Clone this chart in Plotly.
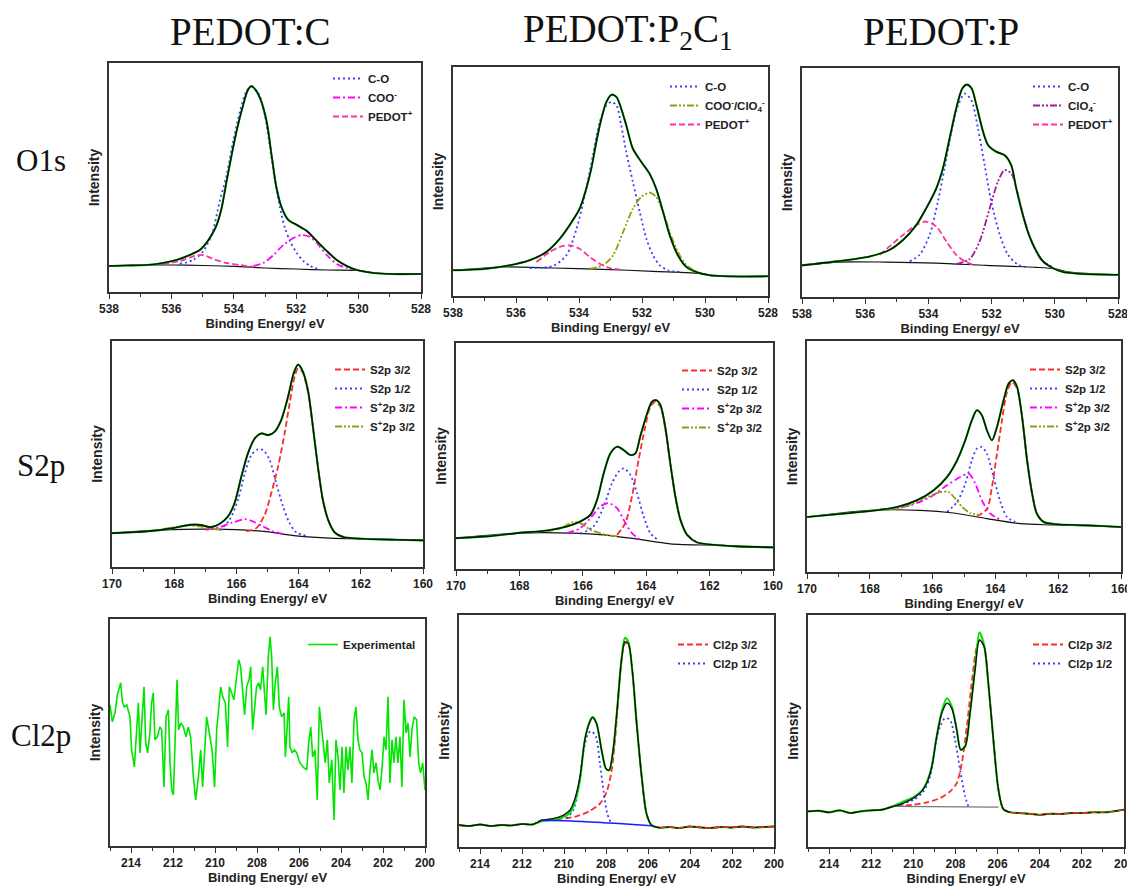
import plotly.graph_objects as go

# The page body has an 8px margin, so the figure is made 8px smaller and all
# reference-pixel positions are shifted by that offset.
REF_W, REF_H, OFF = 1135, 886, 8
W, H = REF_W - OFF, REF_H - OFF

# ---------------- DATA ----------------
# Panel 1: O1s, PEDOT:C
o1s_C_env_E = [538, 537.5, 536.8, 536.27, 535.84, 535.41, 535.09, 534.93, 534.71, 534.55, 534.39, 534.23, 534.07, 533.91, 533.7, 533.55, 533.43, 533.3, 533.16, 532.95, 532.79, 532.63, 532.46, 532.25, 531.98, 531.66, 531.34, 531.02, 530.7, 530.38, 530.06, 529.52, 529, 528]
o1s_C_env_I = [26, 26.5, 27, 29, 32, 37, 42, 47, 57, 67, 84, 111, 137, 161, 187, 202, 206, 202, 194, 171, 137, 104, 84, 72, 67, 61, 51, 41, 32, 26, 22, 19, 18, 18]
o1s_C_base_E = [538, 537, 536, 535, 534, 533, 532, 531, 530, 529.5, 528]
o1s_C_base_I = [25.7, 27, 27, 26.5, 25.7, 24, 23, 22, 21.5, 19, 18.3]
o1s_C_CO_E = [535.73, 535.3, 534.98, 534.71, 534.45, 534.23, 534.02, 533.8, 533.59, 533.43, 533.21, 533.0, 532.84, 532.68, 532.52, 532.36, 532.2, 531.98, 531.77, 531.55, 531.23]
o1s_C_CO_I = [28, 32, 41, 57, 91, 117, 151, 181, 201, 205, 199, 176, 144, 111, 84, 64, 51, 39, 31, 26, 22]
o1s_C_COO_E = [533.37, 533.05, 532.73, 532.41, 532.09, 531.82, 531.55, 531.34, 531.02, 530.7, 530.38, 530.06]
o1s_C_COO_I = [26, 29, 37, 47, 54, 57, 55, 49, 37, 28, 24, 22]
o1s_C_PED_E = [536.27, 535.73, 535.25, 534.98, 534.66, 534.23, 533.8, 533.37]
o1s_C_PED_I = [28, 31, 36, 37, 33, 29, 27, 25]

# Panel 2: O1s, PEDOT:P2C1
o1s_PC_env_E = [538, 536.94, 536.2, 535.57, 535.04, 534.61, 534.3, 533.98, 533.77, 533.61, 533.45, 533.29, 533.13, 532.97, 532.81, 532.66, 532.5, 532.29, 532.02, 531.76, 531.55, 531.33, 531.12, 530.86, 530.59, 530.28, 529.85, 529.32, 528]
o1s_PC_env_I = [25.7, 27.3, 30.7, 35.7, 44, 57.3, 70.7, 87.3, 107.3, 127.3, 154, 177.3, 194, 201.3, 199, 187.3, 170.7, 147.3, 134, 122.3, 107.3, 84, 60.7, 40.7, 29, 24, 20.7, 19.7, 19.7]
o1s_PC_base_E = [538, 536.41, 534.83, 533.24, 531.65, 530.06, 529.75, 528]
o1s_PC_base_I = [25.7, 29, 28, 26.7, 24.7, 22.3, 20, 19.7]
o1s_PC_CO_E = [535.57, 534.83, 534.4, 534.08, 533.77, 533.56, 533.34, 533.13, 532.97, 532.81, 532.66, 532.5, 532.29, 532.07, 531.86, 531.65, 531.44, 531.17, 530.8]
o1s_PC_CO_I = [28, 30, 40.7, 67, 107, 140.7, 174, 190.7, 194, 190.7, 170.7, 144, 114, 84, 57.3, 40.7, 30.7, 25.7, 24]
o1s_PC_COO_E = [533.66, 533.24, 532.92, 532.6, 532.29, 532.02, 531.76, 531.55, 531.33, 531.12, 530.86, 530.59, 530.28]
o1s_PC_COO_I = [27.3, 30.7, 40.7, 64, 87.3, 99, 103.3, 99, 84, 64, 44, 30.7, 24.7]
o1s_PC_PED_E = [535.35, 534.93, 534.61, 534.3, 533.98, 533.66, 533.34, 533.03, 532.71]
o1s_PC_PED_I = [34, 44, 49, 50.7, 47.3, 39, 32.3, 28, 26.7]

# Panel 3: O1s, PEDOT:P
o1s_P_env_E = [538, 536.91, 535.86, 535.23, 534.8, 534.38, 534.07, 533.75, 533.54, 533.33, 533.12, 532.93, 532.78, 532.63, 532.48, 532.27, 532.11, 531.85, 531.59, 531.38, 531.22, 531.01, 530.8, 530.58, 530.37, 530.06, 529.74, 529.21, 528]
o1s_P_env_I = [31.7, 35.7, 40.7, 47.3, 57.3, 72.3, 89, 109, 129, 159, 189, 209, 213, 209, 192.3, 165.7, 152.3, 145.7, 142.3, 132.3, 109, 82.3, 60.7, 45.7, 35.7, 29, 25, 23.3, 22.3]
o1s_P_base_E = [538, 536.91, 535.33, 533.75, 532.17, 530.58, 530.0, 529.53, 528]
o1s_P_base_I = [31.7, 35, 35, 34, 31.7, 29.7, 28.3, 25, 22.3]
o1s_P_CO_E = [534.59, 534.28, 533.96, 533.7, 533.49, 533.27, 533.06, 532.85, 532.64, 532.43, 532.22, 532.01, 531.74, 531.48, 531.16, 530.85]
o1s_P_CO_I = [35.7, 42.3, 62.3, 95.7, 129, 165.7, 192.3, 204, 197.3, 169, 132.3, 95.7, 62.3, 42.3, 32.3, 29.7]
o1s_P_ClO4_E = [533.12, 532.69, 532.38, 532.06, 531.8, 531.59, 531.38, 531.16, 530.95, 530.69, 530.43, 530.11]
o1s_P_ClO4_I = [33, 38.3, 55.7, 89, 115.7, 127.3, 124, 102.3, 75.7, 52.3, 37.3, 30.7]
o1s_P_PED_E = [535.54, 534.8, 534.38, 534.07, 533.75, 533.43, 533.12, 532.8, 532.48]
o1s_P_PED_I = [42.3, 62.3, 72.3, 75.7, 70.7, 55.7, 42.3, 35, 31.7]

# Panel 4: S2p, PEDOT:C
s2p_C_env_E = [170, 168.9, 168.04, 167.5, 167.18, 166.81, 166.54, 166.27, 166.06, 165.84, 165.63, 165.41, 165.2, 164.98, 164.77, 164.56, 164.34, 164.16, 164.02, 163.88, 163.7, 163.54, 163.38, 163.22, 163.05, 162.84, 162.57, 161.93, 160.86, 160]
s2p_C_env_I = [34, 35.7, 39, 42.3, 42.3, 40, 43.3, 50.7, 64, 90.7, 114, 129, 134, 132.3, 135.7, 147.3, 170.7, 194, 203, 197.3, 177.3, 140.7, 100.7, 67.3, 47.3, 34.7, 30, 28.3, 27.3, 26.7]
s2p_C_base_E = [170, 168.36, 166.75, 165.14, 164.07, 163.0, 161.39, 160]
s2p_C_base_I = [34, 37.3, 38, 35.7, 31.3, 29, 28, 26.7]
s2p_C_32_E = [165.68, 165.36, 165.09, 164.88, 164.66, 164.45, 164.29, 164.13, 164.02, 163.88, 163.7, 163.54, 163.38, 163.22, 163.05, 162.84, 162.57]
s2p_C_32_I = [35.7, 39, 52.3, 74, 100.7, 134, 164, 190.7, 199, 195.7, 175.7, 140.7, 100.7, 67.3, 47.3, 34.7, 30.7]
s2p_C_12_E = [166.54, 166.22, 165.95, 165.73, 165.52, 165.31, 165.14, 164.93, 164.72, 164.5, 164.29, 164.07, 163.75]
s2p_C_12_I = [36.7, 47.3, 67.3, 94, 112.3, 118, 117.3, 107.3, 84, 60.7, 44, 34.7, 31.3]
s2p_C_Sp_E = [166.97, 166.54, 166.11, 165.73, 165.47, 165.14, 164.82, 164.5]
s2p_C_Sp_I = [37.3, 40, 44.7, 48, 45.7, 40.7, 35.7, 33.3]
s2p_C_Sp2_E = [168.36, 167.82, 167.5, 167.18, 166.81, 166.43]
s2p_C_Sp2_I = [38, 40.7, 41.7, 40.7, 38.3, 37.3]

# Panel 5: S2p, PEDOT:P2C1
s2p_PC_env_E = [170, 169.02, 168.08, 167.13, 166.5, 166.08, 165.76, 165.55, 165.34, 165.13, 164.92, 164.71, 164.5, 164.34, 164.19, 163.97, 163.82, 163.68, 163.55, 163.4, 163.24, 163.08, 162.92, 162.71, 162.4, 161.87, 161.14, 160]
s2p_PC_env_I = [31, 32.7, 36, 38.7, 42.7, 47.7, 54.3, 69.3, 96, 116, 122.7, 119.3, 114.3, 116, 132.7, 156, 167.7, 169.3, 164.3, 142.7, 106, 72.7, 49.3, 34.3, 26.7, 24.3, 22.7, 21.7]
s2p_PC_base_E = [170, 167.97, 166.39, 165.34, 164.29, 163.24, 161.66, 160]
s2p_PC_base_I = [31, 36, 36, 34.3, 30, 25.3, 23.7, 21.7]
s2p_PC_32_E = [164.92, 164.66, 164.45, 164.24, 164.03, 163.87, 163.71, 163.55, 163.4, 163.24, 163.08, 162.92, 162.71, 162.4]
s2p_PC_32_I = [34.3, 46, 72.7, 109.3, 142.7, 162.7, 167.7, 162.7, 141, 106, 72.7, 49.3, 34.3, 26.7]
s2p_PC_12_E = [166.08, 165.66, 165.34, 165.08, 164.87, 164.71, 164.5, 164.29, 164.08, 163.87, 163.61]
s2p_PC_12_I = [35.3, 42.7, 62.7, 86, 97.7, 101, 94.3, 76, 52.7, 36, 28.7]
s2p_PC_Sp_E = [166.5, 166.08, 165.76, 165.45, 165.18, 164.92, 164.71, 164.45, 164.19]
s2p_PC_Sp_I = [36, 41, 51, 62.7, 66, 61, 49.3, 36, 29.3]
s2p_PC_Sp2_E = [167.13, 166.71, 166.29, 166.03, 165.76, 165.34, 164.92]
s2p_PC_Sp2_I = [37.7, 41, 47, 45.3, 39.3, 35, 32.7]

# Panel 6: S2p, PEDOT:P
s2p_P_env_E = [170, 169.04, 167.98, 167.13, 166.5, 165.97, 165.54, 165.22, 164.96, 164.75, 164.59, 164.43, 164.27, 164.11, 163.95, 163.74, 163.58, 163.44, 163.31, 163.15, 162.99, 162.83, 162.68, 162.46, 162.04, 161.08, 160]
s2p_P_env_I = [55, 57.7, 61, 65, 71.7, 81.7, 95, 111.7, 131.7, 151.7, 161.7, 156.7, 141.7, 131.7, 145, 171.7, 188.3, 191.7, 185, 155, 111.7, 78.3, 58.3, 50, 47.7, 46.7, 45]
s2p_P_base_E = [170, 167.98, 166.39, 165.33, 164.27, 163.21, 162.14, 160]
s2p_P_base_I = [55, 61.7, 61.7, 59, 53.3, 48.3, 47, 45]
s2p_P_32_E = [164.59, 164.27, 164.11, 163.95, 163.79, 163.63, 163.47, 163.31, 163.15, 162.99, 162.83, 162.68, 162.46]
s2p_P_32_I = [55.5, 63, 85, 118.3, 151.7, 180, 190, 183.3, 155, 111.7, 78.3, 58.3, 50]
s2p_P_12_E = [165.54, 165.22, 164.96, 164.75, 164.59, 164.43, 164.27, 164.06, 163.84, 163.63, 163.37]
s2p_P_12_I = [60, 70, 88.3, 111.7, 123.3, 125, 118.3, 95, 70, 55, 50]
s2p_P_Sp_E = [167.45, 166.71, 166.07, 165.54, 165.12, 164.85, 164.64, 164.43, 164.16, 163.84]
s2p_P_Sp_I = [62.3, 66.7, 75, 86.7, 95, 98.3, 88.3, 71.7, 58.3, 52.3]
s2p_P_Sp2_E = [167.98, 166.92, 166.18, 165.75, 165.49, 165.28, 165.06, 164.8, 164.48]
s2p_P_Sp2_I = [61.7, 65, 75, 80, 80, 73.3, 65, 59, 56.7]

# Panel 7: Cl2p, PEDOT:C (experimental only)
cl2p_C_exp_E = [215.0, 214.89, 214.76, 214.65, 214.49, 214.41, 214.32, 214.2, 214.05, 213.97, 213.84, 213.73, 213.65, 213.57, 213.48, 213.38, 213.3, 213.21, 213.1, 213.02, 212.94, 212.86, 212.75, 212.62, 212.54, 212.43, 212.33, 212.22, 212.14, 212.06, 211.98, 211.89, 211.81, 211.73, 211.62, 211.51, 211.38, 211.27, 211.16, 211.03, 210.92, 210.79, 210.68, 210.59, 210.49, 210.4, 210.27, 210.14, 210.02, 209.92, 209.83, 209.73, 209.63, 209.51, 209.4, 209.32, 209.21, 209.1, 208.97, 208.87, 208.78, 208.68, 208.59, 208.49, 208.38, 208.3, 208.21, 208.11, 208.02, 207.92, 207.83, 207.73, 207.65, 207.57, 207.46, 207.38, 207.3, 207.22, 207.13, 207.03, 206.94, 206.83, 206.71, 206.65, 206.59, 206.49, 206.43, 206.33, 206.22, 206.11, 205.95, 205.76, 205.63, 205.54, 205.44, 205.35, 205.24, 205.13, 205.03, 204.94, 204.84, 204.75, 204.65, 204.56, 204.44, 204.33, 204.24, 204.14, 204.05, 203.95, 203.86, 203.76, 203.67, 203.57, 203.48, 203.38, 203.29, 203.19, 203.1, 203.0, 202.9, 202.81, 202.71, 202.62, 202.52, 202.43, 202.33, 202.24, 202.14, 202.05, 201.95, 201.86, 201.76, 201.67, 201.57, 201.48, 201.38, 201.29, 201.19, 201.1, 201.0, 200.9, 200.81, 200.71, 200.62, 200.52, 200.4, 200.3, 200.21, 200.11, 200.0]
cl2p_C_exp_I = [141, 124, 133, 151, 163, 144, 139, 141, 129, 96, 79, 116, 143, 93, 129, 159, 103, 93, 113, 143, 153, 106, 109, 119, 116, 59, 129, 136, 83, 56, 51, 116, 166, 116, 123, 119, 109, 119, 109, 69, 46, 69, 96, 59, 99, 129, 113, 96, 59, 116, 136, 159, 149, 143, 99, 159, 153, 146, 169, 186, 179, 153, 131, 159, 166, 179, 116, 139, 159, 163, 156, 179, 156, 131, 189, 209, 189, 136, 163, 179, 139, 129, 133, 89, 109, 149, 99, 93, 96, 93, 83, 78, 76, 103, 119, 89, 96, 46, 139, 123, 99, 83, 106, 63, 86, 26, 106, 89, 56, 99, 53, 99, 76, 99, 63, 126, 139, 106, 96, 93, 69, 63, 46, 76, 96, 73, 83, 66, 56, 76, 109, 96, 149, 63, 106, 83, 109, 83, 109, 59, 146, 113, 123, 89, 116, 129, 126, 83, 73, 83, 56]

# Panel 8: Cl2p, PEDOT:P2C1
cl2p_PC_env_E = [215, 214.5, 214, 213.5, 213, 212.5, 212, 211.5, 211.07, 210.52, 210.04, 209.72, 209.48, 209.24, 209.01, 208.8, 208.64, 208.45, 208.21, 208.0, 207.85, 207.66, 207.46, 207.26, 207.1, 206.94, 206.75, 206.54, 206.3, 206.07, 205.83, 205.43, 205, 204.5, 204, 203.5, 203, 202.5, 202, 201.5, 201, 200.5, 200]
cl2p_PC_env_I = [22, 21, 22.5, 21, 22, 21.5, 23, 22.5, 26.7, 28.3, 31.7, 36.7, 48.3, 70, 106.7, 123.3, 129.3, 123.3, 96.7, 78.3, 76.7, 96.7, 140, 186.7, 205, 203.3, 176.7, 123.3, 70, 33.3, 21.7, 19.3, 20, 19, 20.5, 19.5, 19, 20, 19.5, 20.5, 19.5, 20, 20.5]
cl2p_PC_exp_E = [215, 214.5, 214, 213.5, 213, 212.5, 212, 211.5, 211.07, 210.52, 210.04, 209.72, 209.48, 209.24, 209.01, 208.8, 208.64, 208.45, 208.21, 208.0, 207.85, 207.66, 207.46, 207.26, 207.1, 206.94, 206.75, 206.54, 206.3, 206.07, 205.83, 205.43, 205, 204.5, 204, 203.5, 203, 202.5, 202, 201.5, 201, 200.5, 200]
cl2p_PC_exp_I = [22, 21, 22.5, 21, 22, 21.5, 23, 22.5, 25.7, 27.3, 30, 34, 45, 66.7, 106.7, 124, 130, 123.3, 96.7, 78.3, 76.7, 96.7, 140, 188, 209, 205, 176.7, 123.3, 70, 33.3, 21.7, 19.3, 20, 19, 20.5, 19.5, 19, 20, 19.5, 20.5, 19.5, 20, 20.5]
cl2p_PC_base_E = [211.07, 209.72, 208.13, 206.54, 205.83]
cl2p_PC_base_I = [26.7, 26, 24.3, 22.3, 21.3]
cl2p_PC_32_E = [215, 214.5, 214, 213.5, 213, 212.5, 212, 211.5, 211.07, 210.2, 209.4, 208.77, 208.29, 207.97, 207.73, 207.5, 207.31, 207.1, 206.94, 206.75, 206.54, 206.3, 206.07, 205.83, 205.43, 205, 204.5, 204, 203.5, 203, 202.5, 202, 201.5, 201, 200.5, 200]
cl2p_PC_32_I = [22, 21, 22.5, 21, 22, 21.5, 23, 22.5, 26.7, 28, 30.7, 36, 43.3, 55, 76.7, 123.3, 176.7, 203.3, 202.7, 176.7, 123.3, 70, 33.3, 21.7, 19.3, 20, 19, 20.5, 19.5, 19, 20, 19.5, 20.5, 19.5, 20, 20.5]
cl2p_PC_12_E = [209.88, 209.56, 209.32, 209.09, 208.85, 208.69, 208.48, 208.29, 208.1, 207.94, 207.78]
cl2p_PC_12_I = [28.3, 36.7, 56.7, 93.3, 113.3, 115.7, 110, 83.3, 53.3, 33.3, 25]

# Panel 9: Cl2p, PEDOT:P
cl2p_P_env_E = [215, 214.5, 214, 213.5, 213, 212.5, 212, 211.5, 210.94, 210.47, 209.99, 209.6, 209.36, 209.12, 208.89, 208.65, 208.41, 208.18, 207.94, 207.75, 207.54, 207.31, 207.07, 206.86, 206.64, 206.44, 206.2, 205.96, 205.73, 205.41, 205, 204.5, 204, 203.5, 203, 202.5, 202, 201.5, 201, 200.5, 200]
cl2p_P_env_I = [35.7, 36.3, 34.7, 36.7, 34, 35.7, 36.7, 37.3, 40.7, 44, 49, 55.7, 64, 80.7, 110.7, 134, 144, 139, 117.3, 97.3, 100.7, 134, 177.3, 207.3, 200.7, 164, 107.3, 57.3, 38, 34.7, 34, 33.3, 32.3, 33.3, 33, 34, 34, 34.7, 34.7, 35.7, 37.3]
cl2p_P_exp_E = [215, 214.5, 214, 213.5, 213, 212.5, 212, 211.5, 210.94, 210.47, 209.99, 209.6, 209.36, 209.12, 208.89, 208.65, 208.41, 208.18, 207.94, 207.75, 207.54, 207.31, 207.07, 206.86, 206.64, 206.44, 206.2, 205.96, 205.73, 205.41, 205, 204.5, 204, 203.5, 203, 202.5, 202, 201.5, 201, 200.5, 200]
cl2p_P_exp_I = [35.7, 36.3, 34.7, 36.7, 34, 35.7, 36.7, 37.3, 41, 45.7, 50, 56.5, 65, 81, 111, 136, 149, 141, 117.3, 97.3, 100.7, 134, 179, 215, 202, 164, 107.3, 57.3, 38, 34.7, 34, 33.3, 32.3, 33.3, 33, 34, 34, 34.7, 34.7, 35.7, 37.3]
cl2p_P_base_E = [210.94, 205.96]
cl2p_P_base_I = [40.7, 40]
cl2p_P_32_E = [215, 214.5, 214, 213.5, 213, 212.5, 212, 211.5, 210.94, 209.99, 209.36, 208.73, 208.25, 207.94, 207.7, 207.46, 207.23, 206.99, 206.83, 206.64, 206.44, 206.2, 205.96, 205.73, 205.41, 205, 204.5, 204, 203.5, 203, 202.5, 202, 201.5, 201, 200.5, 200]
cl2p_P_32_I = [35.7, 36.3, 34.7, 36.7, 34, 35.7, 36.7, 37.3, 40.7, 42.3, 44.7, 49, 55.7, 64, 84, 120.7, 164, 200.7, 207.3, 200.7, 164, 107.3, 57.3, 38, 34.7, 34, 33.3, 32.3, 33.3, 33, 34, 34, 34.7, 34.7, 35.7, 37.3]
cl2p_P_12_E = [210.78, 209.99, 209.52, 209.2, 208.97, 208.73, 208.49, 208.26, 208.02, 207.78, 207.54, 207.39]
cl2p_P_12_I = [41.3, 47.3, 55.7, 70.7, 100.7, 120.7, 129, 127.3, 107.3, 77.3, 50.7, 40.7]

col_titles = ["PEDOT:C", "PEDOT:P<sub>2</sub>C<sub>1</sub>", "PEDOT:P"]
row_titles = ["O1s", "S2p", "Cl2p"]
x_title = "Binding Energy/ eV"
y_title = "Intensity"

# ---------------- STYLES ----------------
BLUE, MAG, PINK, RED, OLIVE, PURP = "#3c3cff", "#ff00ff", "#ff3399", "#ff2a2a", "#9a9a10", "#a01a9a"
GREEN, BLACK = "#00e600", "#111111"
DOT = "2px,3px"
DASH = "6px,3px"
DASHDOT = "7px,3px,2px,3px"
DASHDOTDOT = "7px,2px,2px,2px,2px,2px"

# boxes / legend anchors in reference-picture pixels
panels = [
    dict(ax="",  box=(109, 63, 421, 292),  xr=(538, 528), h=229,   leg=(328, 64)),
    dict(ax="2", box=(453, 67, 768, 296),  xr=(538, 528), h=229,   leg=(665, 72)),
    dict(ax="3", box=(802, 68, 1118, 297), xr=(538, 528), h=229.7, leg=(1028, 72)),
    dict(ax="4", box=(112, 341, 423, 567), xr=(170, 160), h=226.7, leg=(330, 355)),
    dict(ax="5", box=(456, 343, 773, 569), xr=(170, 160), h=226.7, leg=(677, 356)),
    dict(ax="6", box=(807, 341, 1121, 572), xr=(170, 160), h=231,  leg=(1025, 355)),
    dict(ax="7", box=(110, 619, 425, 846), xr=(215, 200), h=226.7, leg=(303, 630)),
    dict(ax="8", box=(459, 615, 774, 847), xr=(215, 200), h=231.7, leg=(673, 630)),
    dict(ax="9", box=(808, 615, 1124, 847), xr=(215, 200), h=232.3, leg=(1028, 630)),
]


def px(x):
    return (x - OFF) / W


def py(y):
    return 1 - (y - OFF) / H


fig = go.Figure()


def add(i, E, I, color, width=1.8, dash="solid", name=None, shape="spline"):
    p = panels[i]
    leg = "legend" + p["ax"]
    fig.add_trace(go.Scatter(
        x=E, y=I, mode="lines", xaxis="x" + p["ax"], yaxis="y" + p["ax"],
        line=dict(color=color, width=width, dash=dash, shape=shape,
                  smoothing=0.8 if shape == "spline" else None),
        name=name, showlegend=name is not None, legend=leg, hoverinfo="skip"))


def fit_panel(i, env_E, env_I, base_E, base_I, comps):
    add(i, base_E, base_I, BLACK, 1.2)
    for E, I, c, d, n in comps:
        add(i, E, I, c, 1.8, d, n)
    add(i, env_E, env_I, GREEN, 2.1)
    add(i, env_E, env_I, BLACK, 1.6)


fit_panel(0, o1s_C_env_E, o1s_C_env_I, o1s_C_base_E, o1s_C_base_I, [
    (o1s_C_CO_E, o1s_C_CO_I, BLUE, DOT, "C-O"),
    (o1s_C_COO_E, o1s_C_COO_I, MAG, DASHDOT, "COO<sup>-</sup>"),
    (o1s_C_PED_E, o1s_C_PED_I, PINK, DASH, "PEDOT<sup>+</sup>")])
fit_panel(1, o1s_PC_env_E, o1s_PC_env_I, o1s_PC_base_E, o1s_PC_base_I, [
    (o1s_PC_CO_E, o1s_PC_CO_I, BLUE, DOT, "C-O"),
    (o1s_PC_COO_E, o1s_PC_COO_I, OLIVE, DASHDOTDOT, "COO<sup>-</sup>/ClO<sub>4</sub><sup>-</sup>"),
    (o1s_PC_PED_E, o1s_PC_PED_I, PINK, DASH, "PEDOT<sup>+</sup>")])
fit_panel(2, o1s_P_env_E, o1s_P_env_I, o1s_P_base_E, o1s_P_base_I, [
    (o1s_P_CO_E, o1s_P_CO_I, BLUE, DOT, "C-O"),
    (o1s_P_ClO4_E, o1s_P_ClO4_I, PURP, DASHDOTDOT, "ClO<sub>4</sub><sup>-</sup>"),
    (o1s_P_PED_E, o1s_P_PED_I, PINK, DASH, "PEDOT<sup>+</sup>")])

s_names = ["S2p 3/2", "S2p 1/2", "S<sup>+</sup>2p 3/2", "S<sup>+</sup>2p 3/2"]
for i, d in zip([3, 4, 5], [
    (s2p_C_env_E, s2p_C_env_I, s2p_C_base_E, s2p_C_base_I, s2p_C_32_E, s2p_C_32_I, s2p_C_12_E, s2p_C_12_I, s2p_C_Sp_E, s2p_C_Sp_I, s2p_C_Sp2_E, s2p_C_Sp2_I),
    (s2p_PC_env_E, s2p_PC_env_I, s2p_PC_base_E, s2p_PC_base_I, s2p_PC_32_E, s2p_PC_32_I, s2p_PC_12_E, s2p_PC_12_I, s2p_PC_Sp_E, s2p_PC_Sp_I, s2p_PC_Sp2_E, s2p_PC_Sp2_I),
    (s2p_P_env_E, s2p_P_env_I, s2p_P_base_E, s2p_P_base_I, s2p_P_32_E, s2p_P_32_I, s2p_P_12_E, s2p_P_12_I, s2p_P_Sp_E, s2p_P_Sp_I, s2p_P_Sp2_E, s2p_P_Sp2_I)]):
    fit_panel(i, d[0], d[1], d[2], d[3], [
        (d[4], d[5], RED, DASH, s_names[0]),
        (d[6], d[7], BLUE, DOT, s_names[1]),
        (d[8], d[9], MAG, DASHDOT, s_names[2]),
        (d[10], d[11], OLIVE, DASHDOTDOT, s_names[3])])

# Cl2p PEDOT:C
add(6, cl2p_C_exp_E, cl2p_C_exp_I, GREEN, 1.6, "solid", "Experimental", shape="linear")

# Cl2p PEDOT:P2C1
add(7, cl2p_PC_32_E, cl2p_PC_32_I, RED, 1.8, DASH, "Cl2p 3/2")
add(7, cl2p_PC_12_E, cl2p_PC_12_I, BLUE, 1.8, DOT, "Cl2p 1/2")
add(7, cl2p_PC_exp_E, cl2p_PC_exp_I, GREEN, 2.1)
add(7, cl2p_PC_env_E, cl2p_PC_env_I, BLACK, 1.4)
add(7, cl2p_PC_32_E[-12:], cl2p_PC_32_I[-12:], RED, 1.4, DASH)
add(7, cl2p_PC_base_E, cl2p_PC_base_I, "#1a1aff", 1.5)

# Cl2p PEDOT:P
add(8, cl2p_P_32_E, cl2p_P_32_I, RED, 1.8, DASH, "Cl2p 3/2")
add(8, cl2p_P_12_E, cl2p_P_12_I, BLUE, 1.8, DOT, "Cl2p 1/2")
add(8, cl2p_P_base_E, cl2p_P_base_I, "#777777", 1.3, shape="linear")
add(8, cl2p_P_exp_E, cl2p_P_exp_I, GREEN, 2.1)
add(8, cl2p_P_env_E, cl2p_P_env_I, BLACK, 1.4)
add(8, cl2p_P_32_E[-12:], cl2p_P_32_I[-12:], RED, 1.4, DASH)

# ---------------- LAYOUT ----------------
layout = dict(width=W, height=H, margin=dict(l=0, r=0, t=0, b=0, autoexpand=False),
              paper_bgcolor="white", plot_bgcolor="white", showlegend=True)
tickfont = dict(family="Arial, Liberation Sans", size=12, color="#222", weight="bold")
for p in panels:
    x0, y0, x1, y1 = p["box"]
    a = p["ax"]
    layout["xaxis" + a] = dict(
        domain=[px(x0), px(x1)], anchor="y" + a, range=list(p["xr"]), dtick=2,
        ticks="outside", ticklen=5, tickwidth=1.3, tickcolor="#333",
        minor=dict(dtick=1, ticks="outside", ticklen=3, tickwidth=1.1, tickcolor="#333"),
        showline=True, linecolor="#333", linewidth=1.5, mirror=True,
        showgrid=False, zeroline=False, tickfont=tickfont, automargin=False,
        title=dict(text=x_title, standoff=3,
                   font=dict(family="Arial, Liberation Sans", size=13, color="#222", weight="bold")))
    layout["yaxis" + a] = dict(
        domain=[py(y1), py(y0)], anchor="x" + a, range=[0, p["h"]], showticklabels=False, ticks="",
        showline=True, linecolor="#333", linewidth=1.5, mirror=True,
        showgrid=False, zeroline=False, automargin=False,
        title=dict(text=y_title, standoff=4,
                   font=dict(family="Arial, Liberation Sans", size=14, color="#222", weight="bold")))
    lx, ly = p["leg"]
    layout["legend" + a] = dict(
        x=px(lx), y=py(ly), xanchor="left", yanchor="top", bgcolor="rgba(0,0,0,0)",
        font=dict(family="Arial, Liberation Sans", size=11.5, color="#222", weight="bold"),
        itemwidth=30, tracegroupgap=0, traceorder="normal")

annotations = []
for t, xc in zip(col_titles, [250, 628, 941]):
    annotations.append(dict(text=t, x=px(xc), y=py(32), xref="paper", yref="paper",
                            showarrow=False, xanchor="center", yanchor="middle",
                            font=dict(family="Liberation Serif, Times New Roman", size=39, color="#111")))
for t, yc in zip(row_titles, [160, 465, 735]):
    annotations.append(dict(text=t, x=px(41), y=py(yc), xref="paper", yref="paper",
                            showarrow=False, xanchor="center", yanchor="middle",
                            font=dict(family="Liberation Serif, Times New Roman", size=31, color="#111")))
layout["annotations"] = annotations
fig.update_layout(**layout)
fig.write_html("out.html")
